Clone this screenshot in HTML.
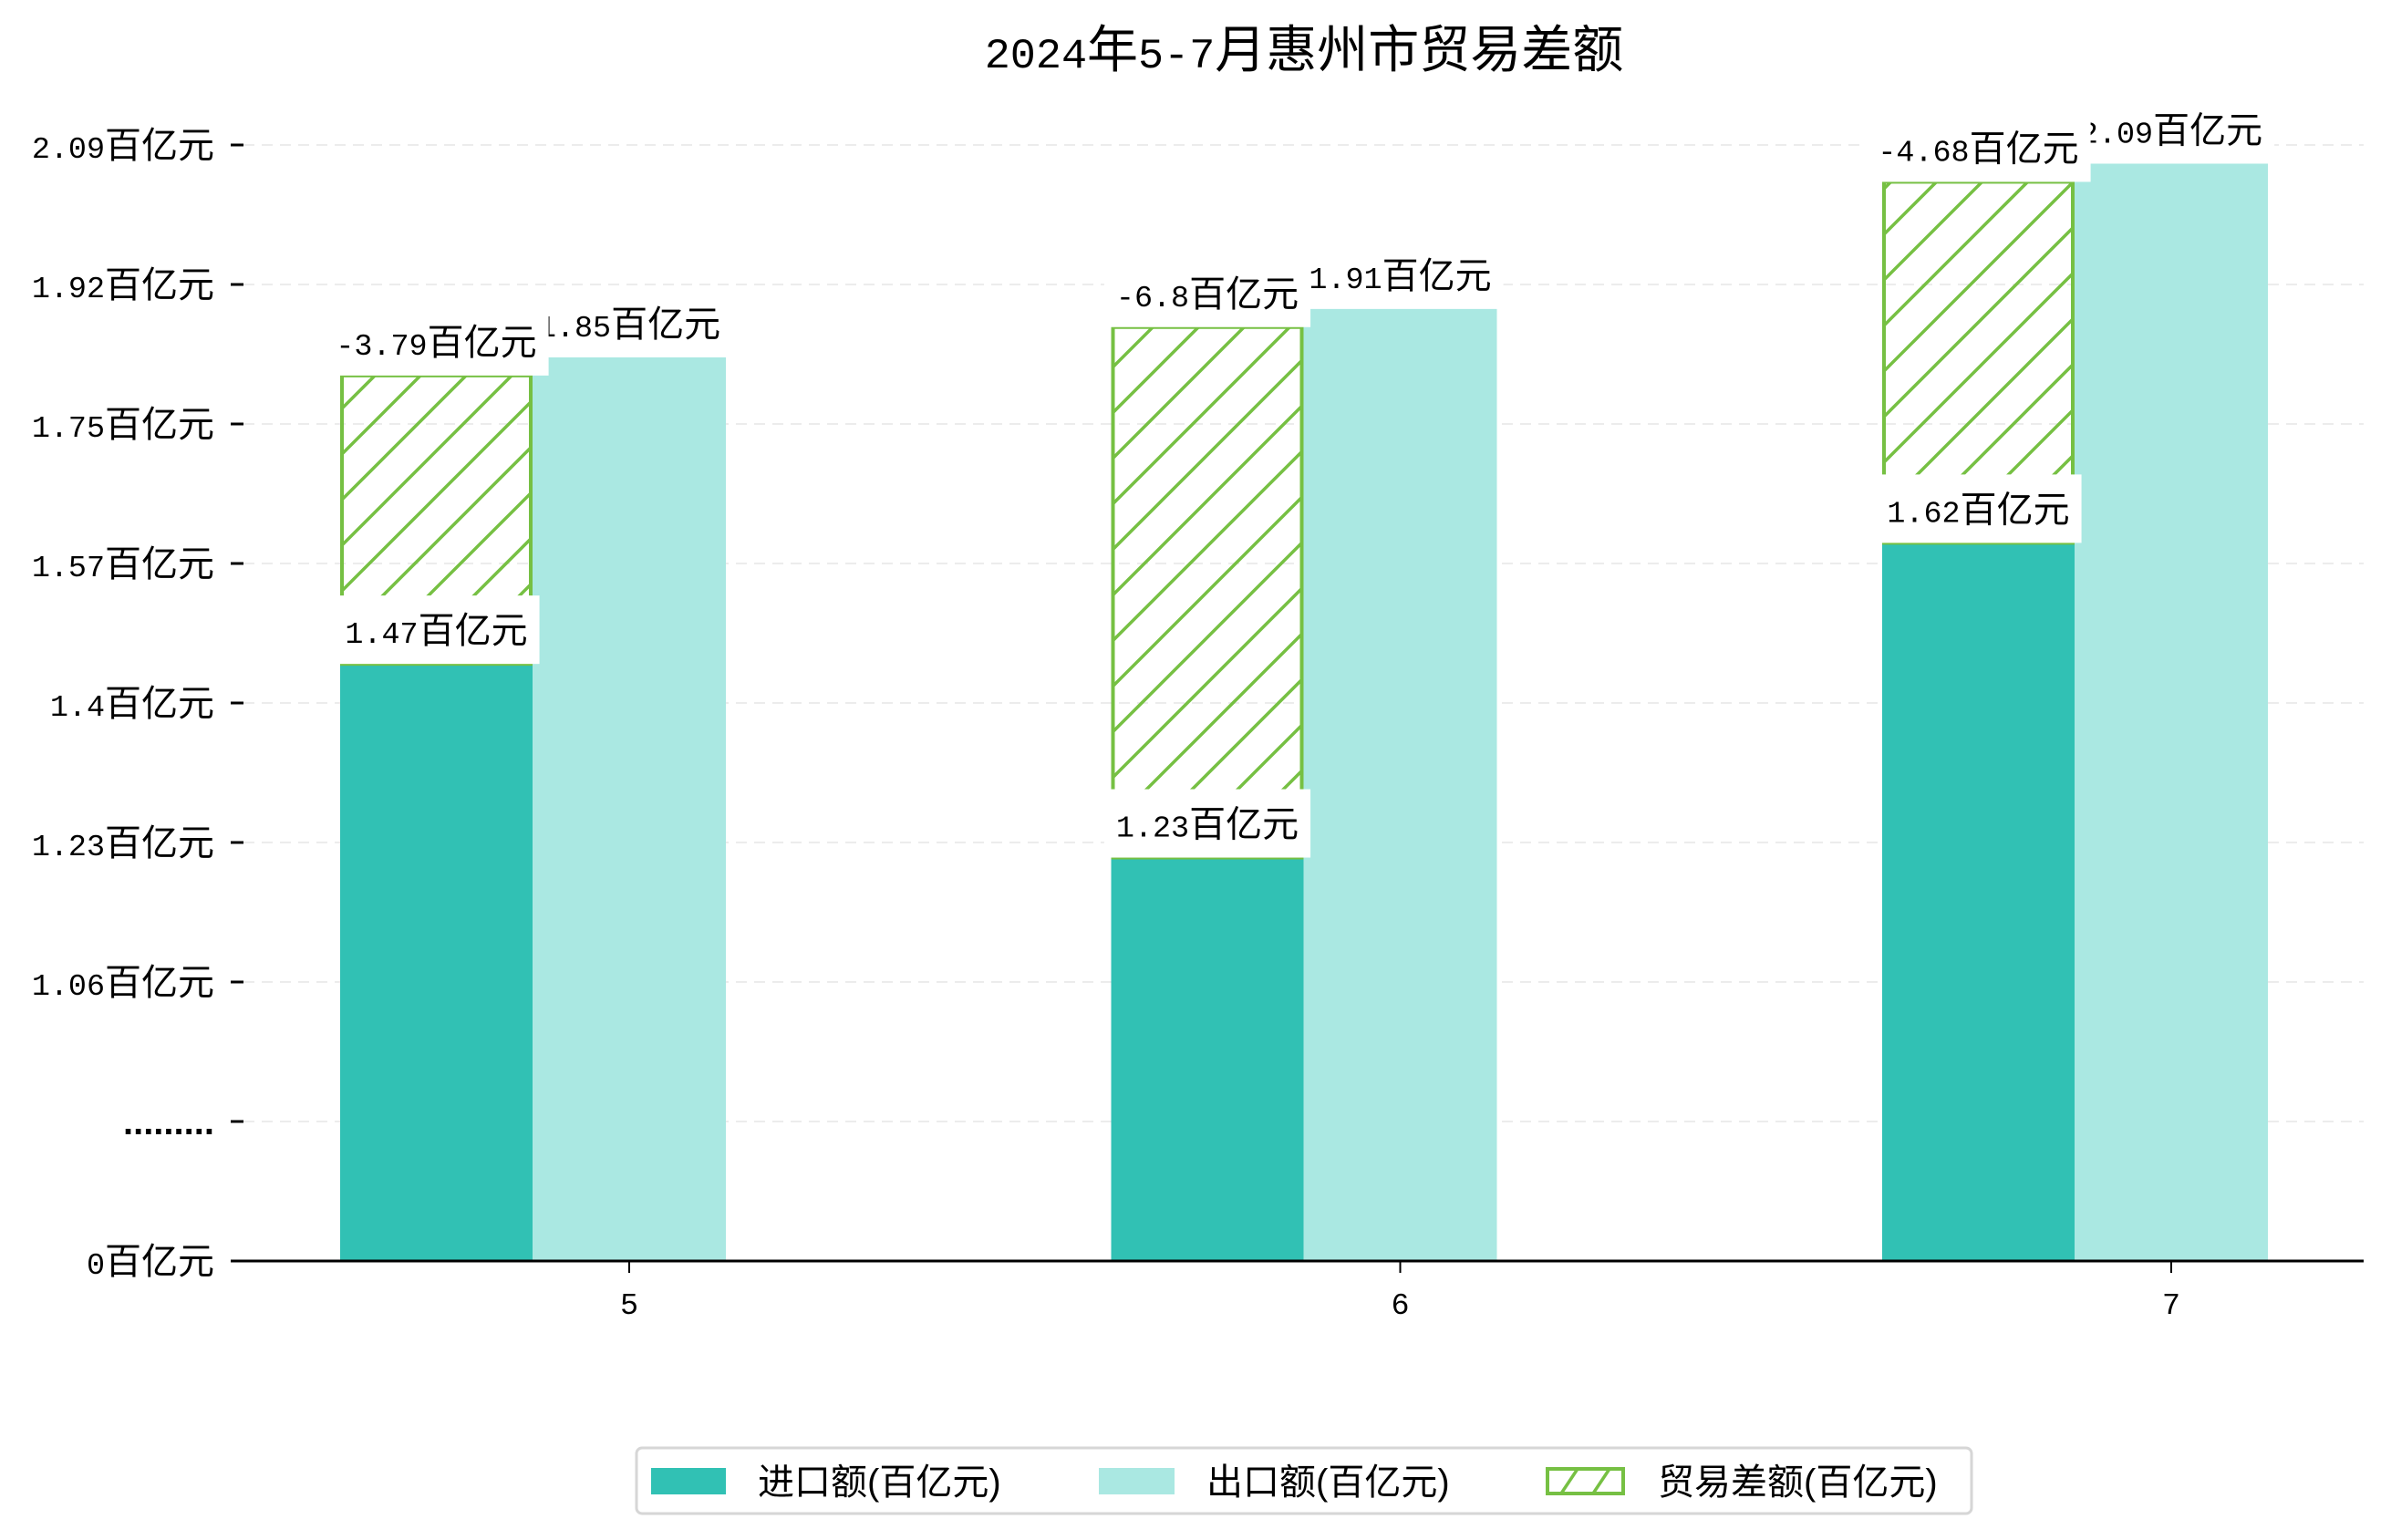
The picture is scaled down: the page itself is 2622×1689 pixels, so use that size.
<!DOCTYPE html>
<html><head><meta charset="utf-8">
<style>
html,body{margin:0;padding:0;background:#fff;}
svg{display:block;font-family:"Liberation Sans","Noto Sans CJK SC",sans-serif;}
</style></head>
<body>
<svg id="chart" width="2622" height="1689" viewBox="0 0 2622 1689" xmlns="http://www.w3.org/2000/svg">
<defs>
<pattern id="hatch" patternUnits="userSpaceOnUse" width="50" height="50" patternTransform="translate(373,0)">
<line x1="-10" y1="60" x2="60" y2="-10" stroke="#76c043" stroke-width="3.5"/>
<line x1="-60" y1="60" x2="10" y2="-10" stroke="#76c043" stroke-width="3.5"/>
<line x1="40" y1="60" x2="110" y2="-10" stroke="#76c043" stroke-width="3.5"/>
</pattern>
</defs>
<text id="title" x="1430" y="74" text-anchor="middle" font-size="56" fill="#000"></text>
<g id="grid"></g>
<g id="yaxis"></g>
<g id="bars"></g>
<g id="labels"></g>
<line x1="254" y1="1383" x2="2592" y2="1383" stroke="#000" stroke-width="3"/>
<g id="xaxis"></g>
<g>
<rect x="698" y="1588" width="1464" height="72" rx="6" fill="#fff" stroke="#d6d6d6" stroke-width="3"/>
<g>
<rect x="714" y="1610" width="82" height="29" fill="#31c1b4"/>
<text x="831" y="1639" font-size="40" fill="#000">进口额(百亿元)</text>
</g>
<g>
<rect x="1205" y="1610" width="83" height="29" fill="#aae8e2"/>
<text x="1323" y="1639" font-size="40" fill="#000">出口额(百亿元)</text>
</g>
<g>
<rect x="1697" y="1611" width="83" height="27" fill="#fff" stroke="#76c043" stroke-width="4"/>
<line x1="1712" y1="1638" x2="1730" y2="1611" stroke="#76c043" stroke-width="3.5"/>
<line x1="1747" y1="1638" x2="1765" y2="1611" stroke="#76c043" stroke-width="3.5"/>
<text x="1818" y="1639" font-size="40" fill="#000">贸易差额(百亿元)</text>
</g>
</g>
</svg>
<script>
const months = ['5', '6', '7'];
const importVals = [1.47, 1.23, 1.62];
const exportVals = [1.85, 1.91, 2.09];
const balanceVals = [-3.79, -6.8, -4.68];
const yTickLabels = ['0百亿元', '.........', '1.06百亿元', '1.23百亿元', '1.4百亿元', '1.57百亿元', '1.75百亿元', '1.92百亿元', '2.09百亿元'];

const NS = 'http://www.w3.org/2000/svg';
const ZERO_Y = 1383, TICK_STEP = 153;
function yScale(v) { return 1091 - (v - 1.06) * 885; }
function tickY(i) { return ZERO_Y - i * TICK_STEP; }
function xCenter(i) { return 690 + i * 845.5; }
const BW = 211;

function mk(tag, attrs, parent) {
  const e = document.createElementNS(NS, tag);
  for (const k in attrs) e.setAttribute(k, attrs[k]);
  parent.appendChild(e);
  return e;
}
// fill text: ASCII runs in monospace (half-width like SimHei), CJK runs normal
function fillText(t, str, size) {
  const runs = str.match(/[\x00-\x7f]+|[^\x00-\x7f]+/g) || [];
  runs.forEach(r => {
    const sp = document.createElementNS(NS, 'tspan');
    if (/^[\x00-\x7f]/.test(r)) {
      sp.setAttribute('font-family', '"Liberation Mono", monospace');
      sp.setAttribute('font-size', (size * 0.835).toFixed(1));
    }
    sp.textContent = r;
    t.appendChild(sp);
  });
}
fillText(document.getElementById('title'), '2024年5-7月惠州市贸易差额', 56);

const grid = document.getElementById('grid');
const yaxis = document.getElementById('yaxis');
const bars = document.getElementById('bars');
const labels = document.getElementById('labels');
const xaxis = document.getElementById('xaxis');

yTickLabels.forEach((lab, i) => {
  const y = tickY(i);
  if (i > 0) {
    const g = mk('line', {x1: 267, y1: y, x2: 2592, y2: y, stroke: '#ececec', 'stroke-width': 2, 'stroke-dasharray': '12,8'}, grid);
    
    
  }
  const t = mk('line', {x1: 253, y1: y, x2: 267, y2: y, stroke: '#000', 'stroke-width': 3}, yaxis);
  
  
  const tx = mk('text', {x: 235, y: y + 14, 'text-anchor': 'end', 'font-size': 40, fill: '#000'}, yaxis);
  if (i === 1) { tx.setAttribute('font-weight', 'bold'); tx.textContent = lab; }
  else fillText(tx, lab, 40);
  
  
});

function labelBox(text, cx, bottom, name) {
  const g = mk('g', {}, labels);
  
  
  const r = mk('rect', {x: 0, y: bottom - 75, width: 10, height: 75, fill: '#fff'}, g);
  const t = mk('text', {x: cx, y: bottom - 23, 'text-anchor': 'middle', 'font-size': 40, fill: '#000'}, g);
  fillText(t, text, 40);
  const w = t.getComputedTextLength();
  r.setAttribute('x', cx - w / 2 - 13);
  r.setAttribute('width', w + 26);
}

months.forEach((m, i) => {
  const c = xCenter(i);
  const iTop = yScale(importVals[i]);
  const eTop = yScale(exportVals[i]);
  const hTop = eTop + 20;
  const bi = mk('rect', {x: c - 317, y: iTop, width: BW, height: ZERO_Y - iTop, fill: '#31c1b4'}, bars);
  
  
  const be = mk('rect', {x: c - 106, y: eTop, width: BW + 1, height: ZERO_Y - eTop, fill: '#aae8e2'}, bars);
  
  
  const bh = mk('rect', {x: c - 317 + 2, y: hTop, width: BW - 4, height: iTop - hTop, fill: 'url(#hatch)', stroke: '#76c043', 'stroke-width': 4}, bars);
  
  

  const tk = mk('line', {x1: c, y1: ZERO_Y, x2: c, y2: ZERO_Y + 13, stroke: '#000', 'stroke-width': 2}, xaxis);
  
  
  const xl = mk('text', {x: c, y: ZERO_Y + 58, 'text-anchor': 'middle', 'font-size': 36, fill: '#000'}, xaxis);
  fillText(xl, m, 40);
  
  

  labelBox(importVals[i] + '百亿元', c - 211.5, iTop, 'import-value-label');
  labelBox(exportVals[i].toFixed(2) + '百亿元', c, eTop, 'export-value-label');
  labelBox(balanceVals[i] + '百亿元', c - 211.5, hTop, 'balance-value-label');
});
</script>
</body></html>
